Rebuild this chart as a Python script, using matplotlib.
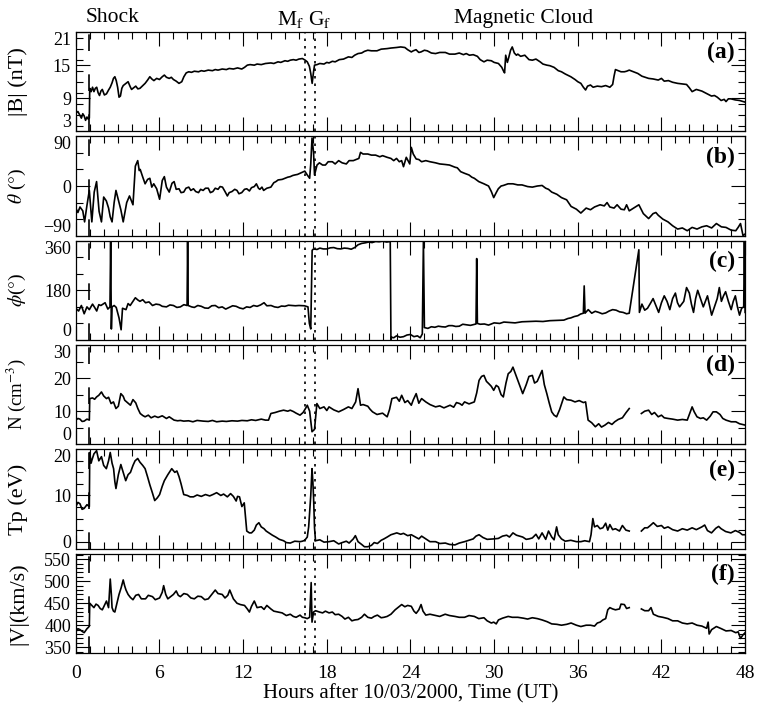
import matplotlib
matplotlib.use("Agg")
import matplotlib.pyplot as plt
import numpy as np
from matplotlib.ticker import MultipleLocator

plt.rcParams['font.family'] = ['Liberation Serif', 'DejaVu Serif']
plt.rcParams['mathtext.fontset'] = 'stix'

nan = float('nan')

# event times (hours)
t_shock = 0.97
t_mf = 16.42
t_gf = 17.12

# (hour, value) samples, one list per panel
# panel (a) |B| (nT)
b_pts = [(0, 6.3), (0.15, 6.6), (0.3, 5.9), (0.4, 5.4), (0.5, 6.2), (0.6, 5.8), (0.7, 5.0), (0.8, 5.6), (0.9, 5.2),
         (0.97, 5.4), (1.0, 10.8), (1.1, 10.2), (1.2, 11.0), (1.3, 10.2), (1.4, 10.8), (1.5, 11.0), (1.6, 10.0),
         (1.7, 9.5), (1.8, 10.3), (1.9, 10.6), (2.05, 9.6), (2.2, 9.8), (2.35, 10.5), (2.47, 11.0), (2.6, 11.8),
         (2.7, 12.6), (2.8, 12.9), (2.9, 12.2), (3.0, 11.0), (3.1, 9.2), (3.2, 9.4), (3.3, 10.8), (3.4, 11.3),
         (3.55, 11.6), (3.75, 12.0), (3.9, 11.1), (4.0, 10.6), (4.15, 10.9), (4.3, 11.2), (4.45, 10.7), (4.6, 10.8),
         (4.8, 11.3), (4.97, 11.7), (5.15, 12.3), (5.31, 12.9), (5.45, 12.5), (5.6, 12.2), (5.8, 12.6), (6.0, 12.4),
         (6.2, 12.9), (6.35, 13.2), (6.5, 12.8), (6.7, 12.6), (6.85, 12.8), (7.0, 12.4), (7.2, 12.1), (7.4, 11.7),
         (7.6, 12.0), (7.75, 12.9), (7.92, 13.6), (8.1, 13.8), (8.3, 13.7), (8.5, 13.9), (8.8, 13.8), (9.0, 14.0),
         (9.2, 13.9), (9.5, 14.1), (9.8, 14.0), (10.0, 14.2), (10.2, 14.1), (10.5, 14.3), (10.8, 14.2), (11.0, 14.4),
         (11.3, 14.3), (11.6, 14.5), (11.9, 14.3), (12.1, 14.6), (12.3, 15.0), (12.5, 15.1), (12.8, 15.0),
         (13.0, 15.2), (13.3, 15.1), (13.6, 15.3), (13.99, 15.4), (14.2, 15.3), (14.5, 15.6), (14.7, 15.5),
         (15.0, 15.8), (15.2, 15.7), (15.38, 15.9), (15.6, 16.0), (15.8, 15.9), (16.0, 16.1), (16.25, 16.2),
         (16.45, 15.9), (16.6, 15.6), (16.75, 14.8), (16.85, 13.5), (16.95, 11.7), (17.05, 13.8), (17.12, 15.0),
         (17.3, 15.1), (17.5, 15.3), (17.8, 15.2), (18.0, 15.5), (18.16, 15.4), (18.4, 15.7), (18.6, 15.6),
         (18.9, 16.0), (19.2, 16.1), (19.55, 16.5), (19.8, 16.4), (20.0, 16.8), (20.24, 17.1), (20.5, 17.2),
         (20.7, 17.5), (20.94, 17.7), (21.2, 17.6), (21.6, 17.6), (21.9, 17.9), (22.33, 18.0), (22.6, 18.1),
         (23.0, 18.2), (23.3, 18.3), (23.6, 18.2), (23.8, 17.8), (24.06, 17.4), (24.2, 17.6), (24.4, 17.8),
         (24.6, 17.3), (24.76, 17.4), (25.0, 17.7), (25.2, 17.6), (25.5, 17.2), (25.8, 17.1), (26.1, 17.3),
         (26.5, 17.3), (26.8, 17.0), (27.19, 17.0), (27.5, 17.2), (27.8, 16.9), (28.0, 17.1), (28.23, 16.8),
         (28.5, 16.9), (28.8, 16.6), (29.0, 16.0), (29.27, 15.6), (29.5, 15.9), (29.8, 15.8), (30.0, 15.5),
         (30.31, 15.3), (30.55, 14.6), (30.66, 14.0), (30.75, 13.6), (30.83, 16.8), (30.95, 15.5), (31.05, 16.4),
         (31.18, 17.7), (31.3, 18.3), (31.45, 17.2), (31.6, 16.8), (31.7, 17.0), (31.9, 16.6), (32.2, 16.8),
         (32.5, 16.0), (32.74, 15.9), (33.0, 16.1), (33.3, 15.6), (33.5, 15.2), (33.78, 15.0), (34.0, 14.9),
         (34.3, 14.6), (34.6, 14.0), (34.83, 13.8), (35.1, 13.4), (35.5, 12.9), (35.8, 12.4), (36.0, 12.0),
         (36.22, 11.7), (36.4, 11.0), (36.56, 10.5), (36.7, 11.2), (36.91, 11.4), (37.1, 11.0), (37.4, 11.2),
         (37.7, 11.1), (38.0, 11.3), (38.3, 11.0), (38.5, 11.5), (38.6, 13.0), (38.7, 14.2), (38.9, 14.0),
         (39.1, 13.8), (39.34, 13.8), (39.5, 13.9), (39.69, 14.1), (40.0, 13.8), (40.3, 13.5), (40.6, 13.0),
         (41.08, 12.6), (41.4, 12.5), (41.77, 12.3), (42.0, 12.6), (42.2, 12.1), (42.5, 12.2), (42.8, 11.9),
         (43.16, 11.7), (43.5, 11.6), (43.8, 11.5), (44.0, 10.9), (44.2, 10.2), (44.5, 10.6), (44.9, 10.3),
         (45.2, 9.9), (45.59, 9.4), (45.8, 9.5), (46.0, 9.2), (46.28, 8.6), (46.5, 8.8), (46.63, 8.4), (46.8, 8.9),
         (46.98, 8.9), (47.3, 8.7), (47.6, 8.6), (48, 8.3)]

# panel (b) theta (deg)
th_pts = [(0, -40), (0.15, -48), (0.3, -38), (0.5, -45), (0.63, -65), (0.8, -35), (0.97, -8), (1.15, -65),
          (1.32, -11), (1.49, 8), (1.67, -46), (1.84, -65), (2.0, -20), (2.19, -27), (2.35, -40), (2.47, -56),
          (2.6, -65), (2.75, -30), (2.88, -8), (3.05, -25), (3.23, -43), (3.4, -65), (3.65, -30), (3.85, -18),
          (4.1, -34), (4.27, 36), (4.44, 46), (4.55, 28), (4.62, 30), (4.79, 17), (4.97, 4), (5.15, 12), (5.31, 14),
          (5.45, -2), (5.59, 4), (5.8, -5), (6.01, -24), (6.2, 10), (6.35, 17), (6.5, -2), (6.7, -11), (6.9, 5),
          (7.05, 8), (7.2, -6), (7.4, -5), (7.55, -12), (7.74, -11), (7.9, -4), (8.1, -2), (8.25, -8), (8.44, -5),
          (8.6, -10), (8.8, -12), (8.95, -6), (9.13, -8), (9.3, -4), (9.5, -4), (9.65, -12), (9.83, -10), (10.0, -4),
          (10.2, -6), (10.35, -1), (10.52, -2), (10.7, -10), (10.87, -18), (11.0, -12), (11.2, -10), (11.4, -6),
          (11.56, -8), (11.7, -14), (11.9, -12), (12.1, -6), (12.26, -5), (12.45, -9), (12.6, -3), (12.8, -1),
          (12.95, 4), (13.1, -4), (13.2, -6), (13.35, -2), (13.47, -8), (13.7, -4), (13.99, -2), (14.2, 6),
          (14.35, 8), (14.51, 11), (14.8, 12), (15.0, 14), (15.2, 16), (15.38, 17), (15.55, 19), (15.7, 20),
          (15.9, 21), (16.08, 23), (16.25, 25), (16.42, 27), (16.6, 20), (16.77, 14), (16.85, 40), (16.94, 87),
          (17.05, 61), (17.12, 20), (17.19, 27), (17.3, 38), (17.47, 42), (17.7, 38), (17.9, 38), (18.1, 44),
          (18.4, 44), (18.6, 40), (18.85, 46), (19.1, 42), (19.4, 40), (19.6, 46), (19.9, 46), (20.1, 48),
          (20.3, 50), (20.42, 61), (20.6, 58), (20.94, 58), (21.2, 56), (21.5, 56), (21.8, 53), (22.0, 55),
          (22.33, 52), (22.6, 50), (22.8, 46), (23.0, 50), (23.2, 44), (23.37, 46), (23.5, 35), (23.7, 52),
          (23.95, 40), (24.06, 70), (24.2, 58), (24.41, 49), (24.6, 48), (24.8, 44), (25.1, 46), (25.4, 44),
          (25.8, 42), (26.1, 40), (26.49, 39), (26.8, 38), (27.0, 36), (27.2, 34), (27.36, 33), (27.6, 26),
          (27.88, 23), (28.2, 20), (28.4, 16), (28.58, 14), (28.9, 8), (29.27, 4), (29.6, 0), (29.8, -10),
          (29.97, -21), (30.15, -12), (30.3, -5), (30.5, 0), (30.66, 1), (31.0, 4), (31.35, 4), (31.7, 2), (32.0, 2),
          (32.4, -1), (32.74, -2), (33.1, 0), (33.44, 1), (33.7, -4), (33.9, -6), (34.13, -11), (34.5, -15),
          (34.83, -21), (35.2, -25), (35.52, -37), (35.9, -42), (36.22, -49), (36.6, -40), (36.91, -43),
          (37.2, -38), (37.6, -34), (37.9, -36), (38.1, -30), (38.3, -38), (38.6, -40), (38.82, -34), (39.1, -42),
          (39.34, -43), (39.5, -34), (39.69, -45), (40.0, -40), (40.38, -34), (40.7, -50), (41.08, -59),
          (41.4, -50), (41.6, -48), (41.77, -53), (42.1, -60), (42.47, -65), (42.8, -72), (43.16, -78),
          (43.5, -76), (43.85, -81), (44.2, -75), (44.55, -78), (44.9, -74), (45.24, -72), (45.6, -76),
          (45.94, -68), (46.3, -74), (46.63, -75), (47.0, -80), (47.33, -81), (47.5, -75), (47.67, -68),
          (47.85, -90), (48, -87)]

# panel (c) phi (deg)
ph_pts = [(0, 115), (0.2, 105), (0.4, 125), (0.6, 95), (0.8, 120), (0.97, 110), (1.2, 130), (1.35, 118), (1.5, 105),
          (1.65, 128), (1.8, 125), (2.1, 135), (2.3, 112), (2.45, 120), (2.5, 360), (2.55, 40), (2.6, 120),
          (2.75, 125), (2.9, 118), (3.1, 80), (3.25, 37), (3.35, 115), (3.6, 110), (3.75, 132), (3.9, 125),
          (4.1, 140), (4.27, 153), (4.45, 145), (4.6, 140), (4.8, 146), (5.0, 135), (5.25, 138), (5.5, 125),
          (5.75, 130), (6.0, 128), (6.2, 122), (6.5, 120), (6.75, 127), (7.0, 125), (7.25, 118), (7.5, 120),
          (7.75, 128), (7.98, 125), (8.02, 360), (8.06, 125), (8.3, 120), (8.5, 118), (8.75, 125), (9.0, 122),
          (9.25, 116), (9.5, 115), (9.75, 124), (10.0, 125), (10.25, 117), (10.5, 120), (10.75, 112), (11.0, 118),
          (11.25, 124), (11.5, 122), (11.75, 116), (12.0, 113), (12.25, 120), (12.5, 118), (12.75, 125), (13.0, 122),
          (13.25, 127), (13.5, 135), (13.7, 124), (14.0, 125), (14.25, 120), (14.5, 118), (14.75, 123), (15.0, 122),
          (15.25, 126), (15.5, 125), (15.75, 124), (16.0, 125), (16.4, 124), (16.65, 120), (16.75, 60), (16.85, 40),
          (16.95, 325), (17.05, 330), (17.3, 328), (17.5, 333), (17.75, 330), (18.0, 330), (18.25, 334),
          (18.5, 335), (18.75, 331), (19.0, 330), (19.25, 333), (19.5, 332), (19.75, 329), (20.0, 335),
          (20.24, 345), (20.5, 350), (20.75, 352), (21.0, 355), (21.25, 353), (21.5, 357), (21.75, 356),
          (22.0, 358), (22.3, 355), (22.55, 357), (22.6, 0), (22.65, 10), (22.8, 8), (23.0, 15), (23.25, 10),
          (23.5, 12), (23.75, 18), (24.0, 20), (24.25, 12), (24.5, 15), (24.7, 8), (24.85, 22), (24.93, 360),
          (25.0, 45), (25.25, 42), (25.5, 48), (25.75, 46), (26.0, 50), (26.25, 48), (26.5, 47), (26.75, 52),
          (27.0, 52), (27.25, 49), (27.5, 50), (27.75, 57), (28.0, 55), (28.3, 53), (28.7, 58), (28.75, 295),
          (28.8, 60), (29.0, 57), (29.3, 58), (29.6, 54), (30.0, 62), (30.4, 60), (30.7, 65), (31.0, 64),
          (31.5, 62), (32.0, 66), (32.5, 67), (33.0, 68), (33.5, 67), (34.0, 70), (34.5, 71), (35.0, 72),
          (35.3, 78), (35.5, 80), (35.75, 85), (36.0, 88), (36.2, 94), (36.4, 97), (36.46, 196), (36.52, 97),
          (36.75, 110), (37.0, 97), (37.25, 104), (37.5, 100), (37.75, 95), (38.0, 98), (38.25, 105), (38.5, 110),
          (38.75, 108), (39.0, 102), (39.25, 100), (39.5, 95), (39.69, 97), (40.38, 327), (40.42, 100),
          (40.6, 130), (40.8, 108), (41.0, 115), (41.2, 132), (41.4, 150), (41.6, 125), (41.8, 100), (42.0, 135),
          (42.2, 160), (42.4, 140), (42.6, 110), (42.8, 150), (43.0, 170), (43.15, 135), (43.3, 120), (43.6, 140),
          (43.8, 190), (44.0, 170), (44.15, 130), (44.3, 100), (44.45, 150), (44.6, 180), (44.8, 150), (45.0, 120),
          (45.15, 140), (45.3, 160), (45.45, 125), (45.6, 90), (45.8, 120), (46.0, 150), (46.15, 190), (46.3, 140),
          (46.45, 160), (46.6, 175), (46.8, 140), (47.0, 110), (47.15, 140), (47.3, 160), (47.45, 120), (47.6, 90),
          (47.75, 115), (47.9, 120), (47.95, 360), (48, 100)]

# panel (d) N (cm^-3)
n_pts = [(0, 7.3), (0.15, 7.8), (0.3, 7.6), (0.45, 6.9), (0.6, 7.0), (0.8, 7.6), (0.97, 7.3), (1.0, 13.8),
         (1.2, 14.0), (1.35, 13.6), (1.49, 14.3), (1.65, 14.8), (1.84, 15.8), (2.0, 14.6), (2.2, 13.8), (2.35, 14.2),
         (2.53, 12.3), (2.7, 12.8), (2.88, 10.8), (3.05, 11.5), (3.23, 15.3), (3.4, 14.5), (3.51, 13.3),
         (3.7, 12.6), (3.92, 11.8), (4.1, 13.5), (4.3, 12.5), (4.45, 10.8), (4.62, 9.3), (4.8, 8.7), (4.97, 8.3),
         (5.2, 8.8), (5.4, 8.0), (5.66, 8.5), (5.9, 8.1), (6.2, 8.6), (6.5, 7.8), (6.7, 8.3), (7.05, 7.3),
         (7.3, 7.1), (7.5, 7.2), (7.74, 7.0), (8.09, 7.1), (8.4, 6.8), (8.7, 7.2), (9.13, 7.0), (9.5, 6.9),
         (9.8, 7.2), (10.1, 6.8), (10.5, 7.0), (10.8, 6.9), (11.2, 7.1), (11.6, 7.0), (11.91, 7.2), (12.3, 7.1),
         (12.6, 7.4), (12.9, 7.2), (13.3, 7.6), (13.6, 7.3), (13.82, 7.3), (13.99, 9.3), (14.3, 9.6), (14.6, 10.0),
         (14.9, 10.3), (15.2, 10.0), (15.38, 10.3), (15.6, 9.9), (15.8, 9.4), (16.08, 8.8), (16.3, 9.6),
         (16.5, 11.0), (16.6, 11.8), (16.77, 10.0), (16.94, 3.8), (17.12, 4.5), (17.29, 12.3), (17.5, 10.8),
         (17.8, 11.3), (18.0, 10.2), (18.16, 11.3), (18.5, 10.4), (18.85, 9.8), (19.2, 10.5), (19.55, 11.3),
         (19.8, 10.8), (20.07, 12.8), (20.24, 16.8), (20.42, 11.8), (20.6, 12.0), (20.94, 11.5), (21.1, 10.6),
         (21.28, 9.8), (21.6, 9.0), (22.0, 9.4), (22.33, 8.3), (22.5, 10.5), (22.67, 13.8), (23.0, 14.2),
         (23.2, 13.0), (23.37, 14.8), (23.6, 12.6), (23.8, 13.2), (24.06, 11.8), (24.2, 13.4), (24.41, 15.3),
         (24.6, 12.4), (24.8, 13.8), (25.1, 12.8), (25.4, 12.0), (25.8, 11.3), (26.1, 11.6), (26.4, 11.0),
         (26.84, 11.8), (27.1, 11.2), (27.3, 12.6), (27.53, 12.3), (27.7, 11.8), (27.88, 12.8), (28.2, 12.2),
         (28.58, 12.8), (28.75, 15.5), (28.92, 19.3), (29.1, 20.5), (29.27, 20.8), (29.45, 19.0), (29.62, 18.3),
         (29.8, 17.5), (29.97, 16.3), (30.15, 17.8), (30.31, 17.3), (30.5, 15.0), (30.66, 14.3), (30.85, 18.5),
         (31.01, 21.3), (31.2, 22.0), (31.35, 23.3), (31.55, 21.0), (31.7, 19.3), (31.9, 17.0), (32.05, 15.3),
         (32.3, 18.0), (32.5, 20.5), (32.74, 20.8), (32.9, 18.5), (33.09, 19.0), (33.3, 21.0), (33.44, 22.3),
         (33.6, 18.0), (33.78, 15.3), (33.95, 12.5), (34.13, 9.8), (34.3, 8.8), (34.48, 8.3), (34.7, 10.5),
         (35.0, 14.3), (35.2, 13.5), (35.52, 13.3), (35.8, 12.8), (36.1, 13.2), (36.4, 12.6), (36.56, 12.8),
         (36.74, 7.3), (37.0, 6.5), (37.26, 5.3), (37.5, 6.2), (37.7, 5.2), (37.95, 5.8), (38.2, 6.6), (38.45, 6.0),
         (38.65, 6.8), (38.9, 7.5), (39.2, 8.0), (39.45, 9.5), (39.69, 10.8), (39.7, nan), (40.56, 9.3),
         (40.8, 10.0), (41.08, 10.3), (41.3, 9.0), (41.5, 9.6), (41.77, 8.3), (42.0, 8.8), (42.2, 8.0),
         (42.47, 7.8), (42.8, 7.6), (43.16, 7.3), (43.5, 7.5), (43.85, 7.3), (44.0, 9.0), (44.2, 11.3),
         (44.35, 9.8), (44.55, 8.3), (44.8, 7.8), (45.0, 8.0), (45.24, 7.3), (45.5, 8.5), (45.7, 9.8),
         (45.94, 9.8), (46.2, 9.0), (46.4, 7.8), (46.63, 7.3), (47.0, 6.8), (47.33, 6.8), (47.6, 6.2), (48, 5.8)]

# panel (e) Tp (eV)
tp_pts = [(0, 7.6), (0.15, 8.5), (0.3, 8.2), (0.45, 7.0), (0.6, 7.2), (0.8, 8.0), (0.97, 7.6), (1.0, 19.3),
          (1.1, 17.0), (1.15, 17.6), (1.3, 19.0), (1.49, 19.7), (1.65, 17.5), (1.84, 18.4), (2.0, 16.5),
          (2.19, 15.8), (2.35, 17.5), (2.47, 19.3), (2.6, 17.0), (2.71, 15.8), (2.8, 13.0), (2.88, 11.5),
          (3.05, 14.5), (3.23, 16.7), (3.4, 15.0), (3.58, 13.2), (3.75, 14.5), (3.92, 15.0), (4.1, 16.5),
          (4.25, 17.5), (4.44, 18.0), (4.6, 17.2), (4.8, 16.5), (4.97, 15.8), (5.15, 14.0), (5.31, 12.3),
          (5.5, 10.5), (5.66, 8.9), (5.85, 9.5), (6.01, 10.2), (6.2, 12.0), (6.35, 13.2), (6.6, 14.5), (6.88, 15.8),
          (7.1, 15.0), (7.25, 15.3), (7.4, 14.1), (7.55, 12.5), (7.74, 10.2), (8.0, 10.0), (8.2, 9.7), (8.44, 9.7),
          (8.7, 10.1), (9.0, 9.8), (9.3, 10.2), (9.6, 9.9), (9.83, 10.2), (10.1, 10.6), (10.4, 10.0), (10.6, 10.3),
          (10.87, 9.7), (11.1, 10.4), (11.3, 9.8), (11.5, 8.8), (11.6, 9.8), (11.74, 9.7), (11.91, 7.6),
          (12.08, 8.4), (12.26, 2.3), (12.45, 1.9), (12.6, 1.9), (12.8, 2.5), (12.95, 3.6), (13.13, 4.1),
          (13.3, 3.2), (13.5, 2.8), (13.65, 2.3), (13.9, 1.8), (14.1, 1.4), (14.34, 1.0), (14.6, 0.5), (14.9, 0.2),
          (15.1, -0.2), (15.38, -0.3), (15.7, 0.1), (16.08, 0.0), (16.25, 0.1), (16.42, 0.3), (16.6, 1.0),
          (16.7, 3.2), (16.85, 10.0), (16.94, 15.8), (17.0, 13.0), (17.05, 9.7), (17.12, 3.0), (17.19, 0.2),
          (17.5, 0.4), (17.8, -0.1), (18.16, 0.0), (18.5, 0.2), (18.85, -0.5), (19.1, -0.2), (19.4, 0.1),
          (19.6, -0.3), (19.9, 0.6), (20.05, 1.3), (20.24, 0.0), (20.5, -0.6), (20.7, -1.1), (20.94, -1.1),
          (21.2, -0.8), (21.4, -0.2), (21.63, -0.4), (21.9, 0.3), (22.1, 0.6), (22.33, 1.0), (22.6, 1.5),
          (22.8, 1.7), (23.02, 1.9), (23.3, 1.6), (23.5, 1.8), (23.8, 1.3), (24.06, 1.5), (24.3, 1.1), (24.6, 0.6),
          (24.8, 1.2), (25.1, 0.6), (25.4, 0.0), (25.8, 0.0), (26.1, -0.4), (26.5, -0.3), (26.8, -0.6),
          (27.19, -0.7), (27.5, -0.3), (27.88, 0.0), (28.2, 0.3), (28.5, 0.6), (28.7, 1.2), (28.92, 1.5),
          (29.2, 0.9), (29.5, 0.5), (29.97, 0.6), (30.3, 0.7), (30.6, 1.2), (30.9, 1.4), (31.1, 1.0), (31.35, 1.9),
          (31.6, 1.4), (32.05, 1.0), (32.3, 0.5), (32.5, 0.6), (32.74, 0.8), (33.0, 1.6), (33.2, 0.6), (33.44, 1.9),
          (33.7, 0.5), (33.9, 2.3), (34.13, 1.0), (34.3, 0.4), (34.48, 3.2), (34.6, 1.5), (34.83, 0.6), (35.1, 0.1),
          (35.5, 0.3), (35.9, 0.0), (36.22, 0.0), (36.5, 0.2), (36.84, 0.0), (36.95, 1.5), (37.08, 5.0),
          (37.2, 3.2), (37.4, 3.5), (37.6, 2.8), (37.8, 3.0), (38.0, 4.0), (38.15, 2.5), (38.3, 3.7), (38.5, 2.6),
          (38.7, 2.8), (38.99, 2.3), (39.2, 3.5), (39.45, 2.5), (39.69, 2.3), (39.7, nan), (40.56, 2.3),
          (40.8, 3.0), (41.0, 3.0), (41.2, 3.5), (41.42, 4.1), (41.7, 3.3), (42.0, 3.5), (42.2, 2.9), (42.47, 3.2),
          (42.8, 2.6), (43.16, 2.3), (43.5, 2.8), (43.85, 2.5), (44.2, 3.0), (44.5, 2.6), (44.9, 3.2), (45.1, 3.6),
          (45.3, 2.4), (45.59, 1.9), (45.9, 2.9), (46.1, 3.3), (46.28, 2.8), (46.6, 2.2), (46.98, 1.9), (47.3, 2.4),
          (47.6, 2.0), (47.8, 1.5), (48, 1.5)]

# panel (f) |V| (km/s)
v_pts = [(0, 385), (0.15, 392), (0.3, 390), (0.45, 386), (0.6, 383), (0.8, 392), (0.9, 395), (0.97, 398),
         (1.0, 450), (1.15, 445), (1.3, 440), (1.45, 448), (1.6, 445), (1.75, 438), (1.9, 435), (2.05, 445),
         (2.2, 455), (2.35, 440), (2.47, 505), (2.55, 470), (2.6, 440), (2.7, 432), (2.8, 430), (2.95, 450),
         (3.1, 470), (3.25, 485), (3.4, 503), (3.5, 490), (3.6, 480), (3.75, 470), (3.92, 463), (4.1, 458),
         (4.3, 468), (4.5, 470), (4.7, 460), (5.0, 460), (5.2, 468), (5.5, 465), (5.7, 458), (6.01, 462),
         (6.2, 475), (6.3, 490), (6.45, 470), (6.6, 460), (6.8, 465), (7.0, 470), (7.2, 478), (7.35, 468),
         (7.5, 465), (7.75, 472), (8.0, 470), (8.25, 462), (8.5, 460), (8.75, 466), (9.0, 465), (9.25, 458),
         (9.5, 460), (9.75, 470), (10.0, 480), (10.2, 472), (10.5, 470), (10.7, 462), (10.9, 468), (11.04, 480),
         (11.2, 468), (11.3, 460), (11.56, 450), (11.8, 447), (12.1, 445), (12.3, 437), (12.45, 430), (12.6, 443),
         (12.8, 455), (13.0, 440), (13.3, 442), (13.5, 436), (13.7, 445), (13.99, 437), (14.2, 432), (14.5, 430),
         (14.8, 428), (15.1, 422), (15.38, 425), (15.6, 420), (15.8, 418), (16.08, 423), (16.25, 418),
         (16.42, 417), (16.6, 415), (16.77, 418), (16.88, 497), (16.94, 407), (17.05, 430), (17.2, 433),
         (17.47, 430), (17.7, 428), (17.9, 432), (18.16, 428), (18.4, 430), (18.6, 424), (18.85, 425), (19.1, 420),
         (19.3, 414), (19.55, 418), (19.8, 410), (20.0, 412), (20.24, 413), (20.5, 418), (20.7, 425), (20.94, 418),
         (21.2, 416), (21.4, 420), (21.63, 423), (21.9, 417), (22.1, 418), (22.33, 420), (22.6, 425), (22.9, 435),
         (23.1, 440), (23.37, 447), (23.6, 442), (23.8, 445), (24.06, 443), (24.25, 432), (24.41, 427),
         (24.6, 435), (24.76, 447), (24.9, 432), (25.1, 423), (25.4, 425), (25.8, 422), (26.1, 420), (26.49, 425),
         (26.8, 422), (27.19, 420), (27.5, 418), (27.88, 418), (28.2, 422), (28.58, 420), (28.9, 415),
         (29.27, 417), (29.5, 410), (29.8, 405), (29.97, 407), (30.15, 403), (30.31, 412), (30.6, 416),
         (31.01, 420), (31.3, 418), (31.7, 418), (32.1, 416), (32.4, 414), (32.74, 417), (33.1, 415), (33.44, 412),
         (33.8, 408), (34.13, 403), (34.5, 402), (34.83, 400), (35.2, 402), (35.52, 405), (35.9, 400),
         (36.22, 397), (36.6, 400), (36.91, 400), (37.2, 398), (37.4, 405), (37.6, 407), (37.8, 412), (38.0, 415),
         (38.15, 435), (38.3, 440), (38.5, 437), (38.7, 435), (38.99, 437), (39.1, 448), (39.34, 447), (39.5, 438),
         (39.69, 440), (39.7, nan), (40.56, 437), (40.8, 433), (41.08, 433), (41.25, 440), (41.42, 425),
         (41.77, 420), (42.1, 418), (42.47, 415), (42.8, 410), (43.16, 410), (43.5, 405), (43.85, 403),
         (44.2, 405), (44.55, 400), (44.9, 398), (45.24, 393), (45.35, 407), (45.42, 380), (45.6, 390),
         (45.94, 397), (46.3, 392), (46.63, 387), (47.0, 388), (47.33, 383), (47.5, 385), (47.67, 370),
         (47.85, 378), (48, 383)]

panels = [
    (b_pts, '|B| (nT)', 16, (3, 21), [3, 9, 15, 21], 2, '(a)'),
    (th_pts, r'$\theta$ ($\degree$)', 14, (-90, 90), [-90, 0, 90], 30, '(b)'),
    (ph_pts, r'$\phi$($\degree$)', 14, (0, 360), [0, 180, 360], 60, '(c)'),
    (n_pts, r'N (cm$^{-3}$)', 13.5, (0, 30), [0, 10, 20, 30], 5, '(d)'),
    (tp_pts, 'Tp (eV)', 16, (-1.5, 20), [0, 10, 20], 2.5, '(e)'),
    (v_pts, '|V|(km/s)', 16, (337, 563), [350, 400, 450, 500, 550], 10, '(f)'),
]

fig, axes = plt.subplots(6, 1, sharex=True, figsize=(7.58, 7.12), dpi=100)
fig.subplots_adjust(left=0.1, right=0.983, top=0.955, bottom=0.083, hspace=0.05)

for i, (ax, (pts, lab, labsize, lim, ticks, minor, tag)) in enumerate(zip(axes, panels)):
    t, v = zip(*pts)
    ax.plot(t, v, color='black', lw=1.2)
    ax.set_ylim(lim)
    ax.set_yticks(ticks)
    ax.yaxis.set_minor_locator(MultipleLocator(minor))
    ax.set_ylabel(lab, fontsize=labsize)
    ax.yaxis.set_label_coords(-0.071, 0.5)
    ax.axvline(t_shock, color='black', lw=1.2, dashes=(10, 14))
    ax.axvline(t_mf, color='black', lw=1.2, dashes=(1.5, 3))
    ax.axvline(t_gf, color='black', lw=1.2, dashes=(1.5, 3))
    ax.text(0.985, 0.79, tag, transform=ax.transAxes, ha='right', va='center',
            fontsize=17, fontweight='bold')
    ax.tick_params(which='both', direction='in', top=True, right=True, labelsize=13)
    ax.tick_params(which='major', length=10, width=0.8)
    ax.tick_params(which='minor', length=5, width=0.8)
    for s in ax.spines.values():
        s.set_linewidth(0.9)
    # keep the edge labels inside each panel, as in the original
    labels = ax.get_yticklabels()
    if i < 5:
        labels[-1].set_va('top')
    if i < 4:
        labels[0].set_va('bottom')

axes[-1].set_xlim(0, 48)
axes[-1].set_xticks(np.arange(0, 49, 6))
axes[-1].xaxis.set_minor_locator(MultipleLocator(1))
axes[-1].tick_params(axis='x', which='major', pad=9, labelsize=14)
axes[-1].set_xlabel('Hours after 10/03/2000, Time (UT)', fontsize=15, labelpad=1)

fig.text(113 / 758, 1 - 18 / 712, 'Shock', ha='center', va='center', fontsize=15.5)
fig.text(291 / 758, 1 - 19 / 712, r'M$_\mathrm{f}$', ha='center', va='center', fontsize=15.5)
fig.text(320 / 758, 1 - 19 / 712, r'G$_\mathrm{f}$', ha='center', va='center', fontsize=15.5)
fig.text(524 / 758, 1 - 18 / 712, 'Magnetic Cloud', ha='center', va='center', fontsize=15.5)

fig.savefig('out.png', dpi=100)
